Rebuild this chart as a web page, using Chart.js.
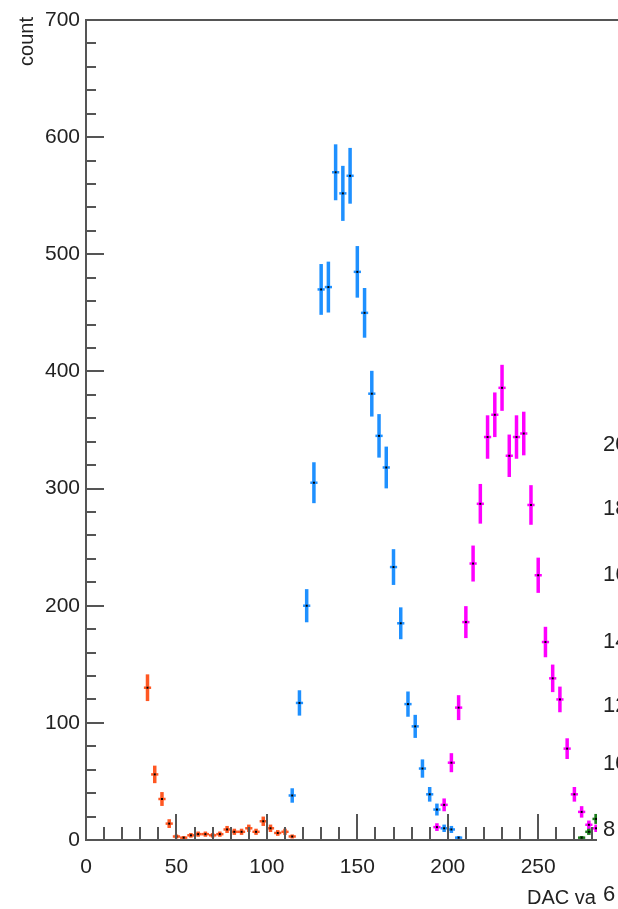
<!DOCTYPE html>
<html>
<head>
<meta charset="utf-8">
<title>DAC value distribution</title>
<script src="https://cdn.jsdelivr.net/npm/chart.js@4.4.1/dist/chart.umd.min.js"></script>
<style>
  html, body { margin: 0; padding: 0; background: #fff; overflow: hidden; }
  canvas { display: block; }
</style>
</head>
<body>
<canvas id="c" width="618" height="909"></canvas>
<script>
// Histogram bin centres (bin width 4 DAC units) and counts per channel group
const BIN_WIDTH = 4;

const orangeBins   = [34, 38, 42, 46, 50, 54, 58, 62, 66, 70, 74, 78, 82, 86, 90, 94, 98, 102, 106, 110, 114];
const orangeCounts = [130, 56, 35, 14, 3, 2, 4, 5, 5, 4, 5, 9, 7, 7, 10, 7, 16, 10, 6, 7, 3];

const blueBins   = [114, 118, 122, 126, 130, 134, 138, 142, 146, 150, 154, 158, 162, 166, 170, 174, 178, 182, 186, 190, 194, 198, 202, 206];
const blueCounts = [38, 117, 200, 305, 470, 472, 570, 552, 567, 485, 450, 381, 345, 318, 233, 185, 116, 97, 61, 39, 26, 10, 9, 2];

const magentaBins   = [194, 198, 202, 206, 210, 214, 218, 222, 226, 230, 234, 238, 242, 246, 250, 254, 258, 262, 266, 270, 274, 278, 282];
const magentaCounts = [11, 30, 66, 113, 186, 236, 287, 344, 363, 386, 328, 344, 347, 286, 226, 169, 138, 120, 78, 39, 24, 13, 10];

const greenBins   = [274, 278, 282];
const greenCounts = [2, 7, 18];

// Axis labelling
const xTickValues = [0, 50, 100, 150, 200, 250];
const yTickValues = [0, 100, 200, 300, 400, 500, 600, 700];
const xTitle = 'DAC value';
const yTitle = 'count';

// Labels of the neighbouring panel's axis, visible at the right edge
const sideLabels  = ['20', '18', '16', '14', '12', '10', '8', '6'];
const sideLabelY  = [445, 509, 575, 642, 706, 764, 830, 895];

const toPoints = (bins, counts) => bins.map((b, i) => ({ x: b, y: counts[i] }));

const AXIS_COLOR = '#555555';
const TEXT_COLOR = '#222222';
const FONT = '"Liberation Sans", Arial, Helvetica, sans-serif';

// Draws sqrt(N) error bars with bin-width horizontal bars and a dot marker
const errorBarPlugin = {
  id: 'errorBars',
  afterDatasetsDraw(chart) {
    const { ctx, chartArea: ca, scales: { x, y } } = chart;
    ctx.save();
    ctx.beginPath();
    ctx.rect(ca.left, 0, ca.right - ca.left, ca.bottom);
    ctx.clip();
    chart.data.datasets.forEach(ds => {
      ctx.strokeStyle = ds.borderColor;
      ds.data.forEach(p => {
        const err = Math.sqrt(p.y);
        const px = x.getPixelForValue(p.x);
        const py = y.getPixelForValue(p.y);
        const yTop = y.getPixelForValue(p.y + err);
        const yBot = y.getPixelForValue(p.y - err);
        const xl = x.getPixelForValue(p.x - BIN_WIDTH / 2);
        const xr = x.getPixelForValue(p.x + BIN_WIDTH / 2);
        ctx.lineCap = 'butt';
        ctx.lineWidth = 3.5;
        ctx.beginPath();
        ctx.moveTo(px, yTop);
        ctx.lineTo(px, yBot);
        ctx.stroke();
        ctx.lineWidth = 2.5;
        ctx.beginPath();
        ctx.moveTo(xl, py);
        ctx.lineTo(xr, py);
        ctx.stroke();
        ctx.fillStyle = '#000';
        ctx.fillRect(px - 1, py - 1, 2, 2);
      });
    });
    ctx.restore();
  }
};

// Frame, inward tick marks, axis titles and side labels
const framePlugin = {
  id: 'rootFrame',
  afterDraw(chart) {
    const { ctx, chartArea: ca, scales: { x, y } } = chart;
    ctx.save();
    ctx.strokeStyle = AXIS_COLOR;
    ctx.lineWidth = 2;
    ctx.lineCap = 'butt';

    // axis lines and top border
    ctx.beginPath();
    ctx.moveTo(ca.left, ca.bottom);
    ctx.lineTo(ca.right, ca.bottom);
    ctx.moveTo(ca.left, ca.bottom + 1);
    ctx.lineTo(ca.left, ca.top - 1);
    ctx.moveTo(ca.left - 1, ca.top);
    ctx.lineTo(chart.width, ca.top);
    ctx.stroke();

    // x ticks: major every 50, minor every 10, pointing up
    ctx.beginPath();
    for (let v = 10; v <= x.max; v += 10) {
      const px = Math.round(x.getPixelForValue(v));
      const len = (v % 50 === 0) ? 26 : 13;
      ctx.moveTo(px, ca.bottom);
      ctx.lineTo(px, ca.bottom - len);
    }
    // y ticks: major every 100, minor every 20, pointing right
    for (let v = 20; v < y.max; v += 20) {
      const py = Math.round(y.getPixelForValue(v));
      const len = (v % 100 === 0) ? 18 : 10;
      ctx.moveTo(ca.left, py);
      ctx.lineTo(ca.left + len, py);
    }
    ctx.stroke();

    // y-axis title, rotated, aligned to the top end of the axis
    ctx.fillStyle = TEXT_COLOR;
    ctx.font = '20px ' + FONT;
    ctx.save();
    ctx.translate(33, 17);
    ctx.rotate(-Math.PI / 2);
    ctx.textAlign = 'right';
    ctx.textBaseline = 'alphabetic';
    ctx.fillText(yTitle, 0, 0);
    ctx.restore();

    // x-axis title, cut at the pad edge
    ctx.save();
    ctx.beginPath();
    ctx.rect(0, ca.bottom + 1, ca.right, chart.height - ca.bottom);
    ctx.clip();
    ctx.textAlign = 'left';
    ctx.textBaseline = 'alphabetic';
    ctx.fillText(xTitle, 527, 904);
    ctx.restore();

    // neighbouring panel labels
    ctx.font = '22px ' + FONT;
    ctx.textAlign = 'left';
    ctx.textBaseline = 'middle';
    sideLabels.forEach((t, i) => ctx.fillText(t, 603, sideLabelY[i]));

    ctx.restore();
  }
};

const mkSet = (label, bins, counts, color) => ({
  label,
  data: toPoints(bins, counts),
  borderColor: color,
  backgroundColor: color,
  pointRadius: 0,
  showLine: false
});

new Chart(document.getElementById('c'), {
  type: 'scatter',
  data: {
    datasets: [
      mkSet('orange', orangeBins, orangeCounts, '#ff5722'),
      mkSet('blue', blueBins, blueCounts, '#1e90ff'),
      mkSet('magenta', magentaBins, magentaCounts, '#ff00ff'),
      mkSet('green', greenBins, greenCounts, '#1a7a1a')
    ]
  },
  options: {
    responsive: false,
    animation: false,
    devicePixelRatio: 1,
    layout: { padding: { top: 20, right: 21, left: 0, bottom: 0 } },
    plugins: { legend: { display: false }, tooltip: { enabled: false } },
    scales: {
      x: {
        type: 'linear',
        min: 0,
        max: 282.5,
        grid: { display: false, drawTicks: false },
        border: { display: false },
        afterBuildTicks: s => { s.ticks = xTickValues.map(v => ({ value: v })); },
        afterFit: s => { s.height = 69; },
        ticks: {
          padding: 15,
          color: TEXT_COLOR,
          font: { family: FONT, size: 21 },
          maxRotation: 0,
          autoSkip: false
        }
      },
      y: {
        type: 'linear',
        min: 0,
        max: 700,
        grid: { display: false, drawTicks: false },
        border: { display: false },
        afterBuildTicks: s => { s.ticks = yTickValues.map(v => ({ value: v })); },
        afterFit: s => { s.width = 86; },
        ticks: {
          padding: 6,
          color: TEXT_COLOR,
          font: { family: FONT, size: 21 },
          autoSkip: false
        }
      }
    }
  },
  plugins: [errorBarPlugin, framePlugin]
});
</script>
</body>
</html>
